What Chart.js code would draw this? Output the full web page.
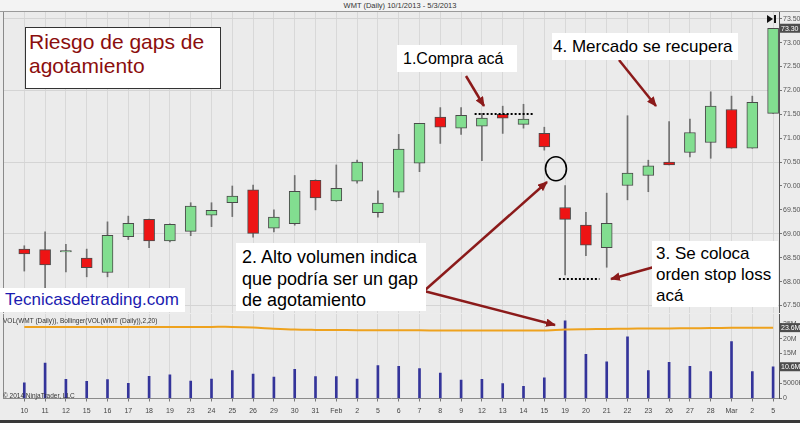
<!DOCTYPE html>
<html lang="es">
<head>
<meta charset="utf-8">
<title>WMT (Daily) - Riesgo de gaps de agotamiento</title>
<script src="https://cdn.jsdelivr.net/npm/chart.js@4.4.1/dist/chart.umd.min.js"></script>
<style>
  html, body { margin: 0; padding: 0; }
  body { width: 800px; height: 423px; position: relative; overflow: hidden; background: #ececec; font-family: 'Liberation Sans', Arial, sans-serif; }
  canvas { position: absolute; left: 0; }
  #cabecera { position: absolute; left: 0; top: 0; width: 800px; height: 11px; border-bottom: 1px solid #9a9a9a; background: #f3f3f3; font-size: 7.5px; line-height: 11px; text-align: center; color: #333; }
  #pie { position: absolute; left: 0; top: 420px; width: 800px; height: 3px; background: #3a3a3a; }
  #capa { position: absolute; left: 0; top: 0; pointer-events: none; }
  .nota { position: absolute; background: #fff; color: #000; font-size: 17px; box-sizing: border-box; white-space: nowrap; }
  .mini { position: absolute; font-size: 6.5px; color: #333; white-space: nowrap; }
</style>
</head>
<body>
<div id="cabecera">WMT (Daily)  10/1/2013 - 5/3/2013</div>
<canvas id="chartPrecio" width="800" height="301" style="top:12px"></canvas>
<canvas id="chartVolumen" width="800" height="107" style="top:313px"></canvas>
<div id="pie"></div>

<div class="mini" style="left:3px; top:317px">VOL(WMT (Daily)), Bollinger(VOL(WMT (Daily)),2,20)</div>
<div class="mini" style="left:3px; top:392px">© 2014 NinjaTrader, LLC</div>

<svg id="capa" width="800" height="423">
  <defs>
    <marker id="punta" markerWidth="4" markerHeight="3.4" refX="3.6" refY="1.7" orient="auto">
      <path d="M0,0 L4,1.7 L0,3.4 z" fill="#8b1a1a"/>
    </marker>
  </defs>
  <g stroke="#8b1a1a" stroke-width="2.5" marker-end="url(#punta)">
    <line x1="466" y1="76" x2="484" y2="106"/>
    <line x1="619" y1="60" x2="656" y2="106"/>
    <line x1="424" y1="291" x2="547" y2="182"/>
    <line x1="424" y1="291" x2="555" y2="325"/>
    <line x1="654" y1="267" x2="611" y2="279"/>
  </g>
  <polygon points="767,15 773,19 767,23" fill="#111"/>
  <rect x="774" y="15" width="2" height="8" fill="#111"/>
</svg>

<div class="nota" style="left:25px; top:27px; width:196px; height:62px; border:1.5px solid #333; color:#8b0d0d; font-size:21px; line-height:24px; padding:2px 0 0 3px">Riesgo de gaps de<br>agotamiento</div>
<div class="nota" style="left:397px; top:45px; width:120px; height:27px; line-height:27px; padding-left:6px; font-size:16px">1.Compra acá</div>
<div class="nota" style="left:552px; top:33px; width:186px; height:27px; line-height:27px; padding-left:1px">4. Mercado se recupera</div>
<div class="nota" style="left:236px; top:243px; width:190px; height:68px; font-size:18px; line-height:21.5px; padding:4px 0 0 6px">2. Alto volumen indica<br>que podría ser un gap<br>de agotamiento</div>
<div class="nota" style="left:652px; top:241px; width:126px; height:66px; line-height:21px; padding:2px 0 0 4px">3. Se coloca<br>orden stop loss<br>acá</div>
<div class="nota" style="left:0px; top:288px; width:185px; height:24px; line-height:24px; padding-left:5px; color:#1b1bb0">Tecnicasdetrading.com</div>

<script>
// fechas de cada vela (etiquetas del eje x)
const fechas = ['10','11','12','15','16','17','18','19','23','24','25','26','29','30','31','Feb','2','5','6',
                '7','8','9','12','13','14','15','19','20','21','22','23','26','27','28','Mar','2','5'];

const apertura = [68.68, 68.67, 68.62, 68.49, 68.19, 68.94, 69.30, 68.85, 69.05, 69.39, 69.65, 69.92, 69.12,
                  69.21, 70.12, 69.69, 70.10, 69.44, 69.87, 70.48, 71.44, 71.21, 71.25, 71.50, 71.29, 71.10,
                  69.55, 69.18, 68.71, 70.01, 70.22, 70.50, 70.70, 70.91, 71.60, 70.79, 71.52];
const maximo   = [68.75, 69.04, 68.78, 68.68, 69.25, 69.37, 69.31, 69.21, 69.65, 69.65, 70.00, 70.02, 69.50,
                  70.22, 70.13, 70.44, 70.54, 69.90, 71.08, 71.31, 71.64, 71.64, 71.52, 71.67, 71.71, 71.23,
                  70.01, 69.45, 69.85, 71.47, 70.54, 71.35, 71.40, 71.97, 71.88, 71.88, 73.30];
const minimo   = [68.22, 67.85, 68.20, 68.10, 68.10, 68.88, 68.71, 68.83, 68.96, 69.15, 69.36, 68.93, 69.04,
                  69.18, 69.50, 69.68, 70.06, 69.35, 69.76, 70.30, 70.89, 71.08, 70.53, 71.10, 71.21, 70.75,
                  68.14, 68.54, 68.30, 69.71, 69.88, 70.44, 70.61, 70.58, 70.79, 70.79, 71.52];
const cierre   = [68.58, 68.35, 68.65, 68.29, 68.97, 69.22, 68.85, 69.20, 69.58, 69.49, 69.79, 69.01, 69.35,
                  69.89, 69.75, 69.95, 70.50, 69.64, 70.77, 71.31, 71.23, 71.48, 71.42, 71.42, 71.40, 70.82,
                  69.30, 68.76, 69.22, 70.27, 70.42, 70.44, 71.12, 71.67, 70.79, 71.75, 73.30];

// volumen diario en millones
const volumen = [5.2, 11.8, 6.4, 5.7, 6.3, 5.05, 7.4, 7.9, 5.8, 6.5, 9.35, 8.15, 7.15, 9.7, 7.3, 7.3, 6.5, 11.0, 10.7,
                 10.0, 8.5, 6.15, 6.4, 4.95, 4.07, 6.9, 25.9, 14.75, 12.2, 20.6, 9.35, 12.1, 10.7, 9.0, 19.0, 9.0, 10.6];
// banda superior de Bollinger del volumen, en millones
const bandaSup = [23.9, 23.9, 23.9, 23.9, 23.9, 23.9, 23.9, 23.9, 23.9, 23.9, 23.9, 23.7, 23.3, 23.0, 22.9, 22.85,
                  22.8, 22.8, 22.8, 22.75, 22.7, 22.7, 22.7, 22.7, 22.7, 22.7, 23.05, 23.15, 23.2, 23.3, 23.35,
                  23.4, 23.45, 23.5, 23.6, 23.6, 23.65];

const ticksPrecio = [67.5, 68.0, 68.5, 69.0, 69.5, 70.0, 70.5, 71.0, 71.5, 72.0, 72.5, 73.0, 73.5];
const ticksVol = [0, 5, 10, 15, 20, 25];
const etiquetasVol = ['0', '5000K', '10M', '15M', '20M', '25M'];

// niveles señalados en el dibujo
const nivelCompra = 71.50;
const nivelStop = 68.06;

const VERDE = '#82de90', ROJO = '#ee1414';
const X_MIN = -1.024, X_MAX = 36.283;
const FUENTE = { family: "'Liberation Sans', Arial, sans-serif", size: 7 };

const alcista = apertura.map((o, i) => cierre[i] >= o);

function ejeX(conEtiquetas) {
  return {
    type: 'linear', min: X_MIN, max: X_MAX, offset: false,
    afterBuildTicks: s => { s.ticks = fechas.map((_, i) => ({ value: i })); },
    ticks: {
      display: conEtiquetas, autoSkip: false, maxRotation: 0, color: '#444', font: FUENTE, padding: 5,
      callback: v => fechas[v] ?? ''
    },
    grid: { offset: false, color: '#d8d8d8', drawTicks: conEtiquetas, tickLength: 3, tickColor: '#777' },
    border: { display: true, color: '#8a8a8a' },
    afterFit: s => { s.paddingLeft = 0; s.paddingRight = 0; s.height = conEtiquetas ? 21.5 : 0; }
  };
}

function ejeY(extra) {
  return Object.assign({
    position: 'right',
    border: { display: true, color: '#555' },
    afterFit: s => { s.width = 21; s.paddingTop = 0; s.paddingBottom = 0; }
  }, extra);
}

// marco del área de trazado
const marco = {
  id: 'marco',
  beforeDraw(chart) {
    const { ctx, chartArea: a } = chart;
    ctx.save();
    ctx.fillStyle = '#ebebeb';
    ctx.fillRect(a.left, a.top, a.right - a.left, a.bottom - a.top);
    ctx.restore();
  },
  afterDraw(chart) {
    const { ctx, chartArea: a } = chart;
    ctx.save();
    ctx.strokeStyle = '#8a8a8a'; ctx.lineWidth = 1;
    ctx.beginPath(); ctx.moveTo(a.left + 0.5, a.top); ctx.lineTo(a.left + 0.5, a.bottom); ctx.stroke();
    ctx.restore();
  }
};

// cajitas con el último valor sobre el eje derecho
const marcaValor = {
  id: 'marcaValor',
  afterDraw(chart, args, opts) {
    const { ctx } = chart;
    const y = chart.scales.y;
    (opts.valores || []).forEach(([v, txt]) => {
      const py = y.getPixelForValue(v);
      ctx.save();
      ctx.fillStyle = '#4d4d4d';
      ctx.fillRect(y.left + 1, py - 4.5, 20, 9);
      ctx.fillStyle = '#fff';
      ctx.font = "7px 'Liberation Sans', Arial";
      ctx.textBaseline = 'middle';
      ctx.fillText(txt, y.left + 2, py + 0.5);
      ctx.restore();
    });
  }
};

// línea punteada de compra, de stop y círculo del gap
const anotaciones = {
  id: 'anotaciones',
  afterDatasetsDraw(chart) {
    const { ctx, scales: { x, y } } = chart;
    ctx.save();
    ctx.strokeStyle = '#000';
    ctx.lineWidth = 2;
    ctx.setLineDash([2, 2]);
    [[nivelCompra, 21.65, 24.5], [nivelStop, 25.7, 27.65]].forEach(([p, a, b]) => {
      const py = Math.round(y.getPixelForValue(p));
      ctx.beginPath();
      ctx.moveTo(x.getPixelForValue(a), py);
      ctx.lineTo(x.getPixelForValue(b), py);
      ctx.stroke();
    });
    ctx.setLineDash([]);
    ctx.lineWidth = 1.6;
    ctx.beginPath();
    ctx.ellipse(x.getPixelForValue(25.56), y.getPixelForValue(70.36), 10.5, 12, 0, 0, 2 * Math.PI);
    ctx.stroke();
    ctx.restore();
  }
};

const chartPrecio = new Chart(document.getElementById('chartPrecio'), {
  type: 'bar',
  data: {
    datasets: [
      {
        // cuerpo de la vela
        data: fechas.map((_, i) => ({ x: i, y: [apertura[i], cierre[i]] })),
        backgroundColor: alcista.map(a => a ? VERDE : ROJO),
        borderColor: '#4a4a4a', borderWidth: 1, borderSkipped: false,
        barThickness: 11, maxBarThickness: 11, grouped: false
      },
      {
        // mecha
        data: fechas.map((_, i) => ({ x: i, y: [minimo[i], maximo[i]] })),
        backgroundColor: '#707070', borderWidth: 0,
        barThickness: 1, maxBarThickness: 1, grouped: false
      }
    ]
  },
  options: {
    responsive: false, animation: false,
    layout: { padding: { left: 3, right: 0, top: 0, bottom: 0 } },
    plugins: {
      legend: { display: false }, tooltip: { enabled: false },
      marcaValor: { valores: [[cierre[cierre.length - 1], cierre[cierre.length - 1].toFixed(2)]] }
    },
    scales: {
      x: ejeX(false),
      y: ejeY({
        min: 67.343, max: 73.640,
        afterBuildTicks: s => { s.ticks = ticksPrecio.map(v => ({ value: v })); },
        ticks: { color: '#555', font: FUENTE, padding: 1, callback: v => v.toFixed(2) },
        grid: {
          color: c => Math.abs(c.tick.value / 1.5 - Math.round(c.tick.value / 1.5)) < 1e-6 ? '#d4d4d4' : 'transparent',
          tickLength: 3, tickColor: '#777'
        }
      })
    }
  },
  plugins: [marco, anotaciones, marcaValor]
});

const chartVolumen = new Chart(document.getElementById('chartVolumen'), {
  type: 'bar',
  data: {
    datasets: [
      {
        type: 'line',
        data: fechas.map((_, i) => ({ x: i, y: bandaSup[i] })),
        borderColor: '#eea21e', borderWidth: 2, pointRadius: 0, tension: 0.3
      },
      {
        data: fechas.map((_, i) => ({ x: i, y: volumen[i] })),
        backgroundColor: '#34349a', borderWidth: 0,
        barThickness: 2, maxBarThickness: 2, grouped: false
      }
    ]
  },
  options: {
    responsive: false, animation: false,
    layout: { padding: { left: 3, right: 0, top: 1, bottom: 0 } },
    plugins: {
      legend: { display: false }, tooltip: { enabled: false },
      marcaValor: {
        valores: [
          [bandaSup[bandaSup.length - 1], bandaSup[bandaSup.length - 1].toFixed(1) + 'M'],
          [volumen[volumen.length - 1], volumen[volumen.length - 1].toFixed(1) + 'M']
        ]
      }
    },
    scales: {
      x: ejeX(true),
      y: ejeY({
        min: 0, max: 28.2,
        afterBuildTicks: s => { s.ticks = ticksVol.map(v => ({ value: v })); },
        ticks: { color: '#555', font: FUENTE, padding: 1, callback: (v, i) => etiquetasVol[i] },
        grid: { color: 'transparent', tickLength: 3, tickColor: '#777' }
      })
    }
  },
  plugins: [marco, marcaValor]
});
</script>
</body>
</html>
